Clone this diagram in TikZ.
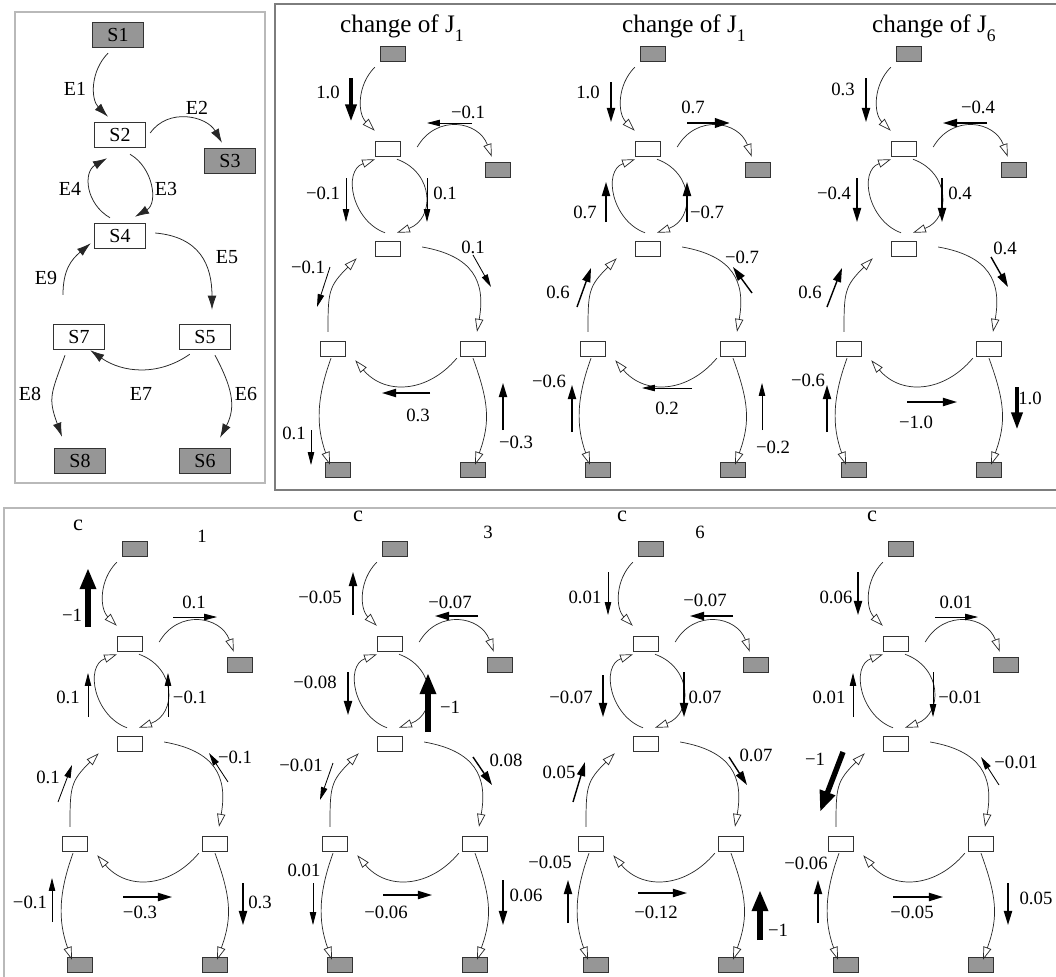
\documentclass[tikz,border=0pt]{standalone}
\usepackage{fontspec}
\setmainfont{Liberation Serif}
\usetikzlibrary{arrows.meta}
\definecolor{poolcolor}{RGB}{150,150,150}
\definecolor{framelight}{RGB}{185,185,185}
\definecolor{framedark}{RGB}{125,125,125}

\tikzset{
  pool/.style={draw=black!80, fill=poolcolor, minimum width=0.75cm, minimum height=0.45cm, inner sep=0pt},
  met/.style={pool, fill=white},
  bigpool/.style={draw=black!80, fill=poolcolor, minimum width=1.53cm, minimum height=0.75cm, inner sep=0pt, font=\fontsize{17}{17}\selectfont},
  bigmet/.style={bigpool, fill=white},
  rxn/.style={draw=black!85, line width=0.6pt, -{Triangle[open,length=11pt,width=7pt]}},
  bigrxn/.style={draw=black!85, line width=0.65pt, -{Latex[length=12pt,width=7.5pt]}},
  ename/.style={font=\fontsize{17}{17}\selectfont, inner sep=0pt},
  num/.style={font=\fontsize{16}{16}\selectfont, inner sep=0pt},
  title/.style={font=\fontsize{21.5}{22}\selectfont, inner sep=0pt, anchor=base west},
  fthin/.style={line width=0.7pt, -{Triangle[length=11pt,width=5.5pt]}},
  fmed/.style={line width=1.2pt, -{Triangle[length=12pt,width=7pt]}},
  fbold/.style={line width=2.4pt, -{Triangle[length=13pt,width=8pt]}},
  fheavy/.style={line width=3.8pt, -{Triangle[length=15pt,width=9pt]}},
  fmax/.style={line width=4.6pt, -{Triangle[length=18pt,width=13pt]}}
}

\newcommand{\jsub}[1]{\lower8pt\hbox{\fontsize{15}{15}\selectfont #1}}

\newcommand{\pathway}[3]{%
  \begin{scope}[shift={(#2,-#3)}]
    \node[pool] (#1-s1) at (5,95) {};
    \node[met]  (#1-s2) at (0,0) {};
    \node[pool] (#1-s3) at (110,-21) {};
    \node[met]  (#1-s4) at (0,-100) {};
    \node[met]  (#1-s7) at (-55,-200) {};
    \node[met]  (#1-s5) at (85,-200) {};
    \node[pool] (#1-s8) at (-50,-321) {};
    \node[pool] (#1-s6) at (85,-321) {};
    \draw[rxn] ([shift={(-5.5,-5.5)}]#1-s1.south west) to[out=-135,in=135] ([shift={(-0.5,10.5)}]#1-s2.north west);
    \draw[rxn] ([shift={(16.5,2)}]#1-s2.east) to[out=60,in=110,looseness=1.3] ([shift={(6.5,5.5)}]#1-s3.north west);
    \draw[rxn] ([shift={(9,-2.5)}]#1-s2.south) to[out=-20,in=20,looseness=1.4] ([shift={(9,8.5)}]#1-s4.north);
    \draw[rxn] ([shift={(-3,8.5)}]#1-s4.north) to[out=160,in=-160,looseness=1.2] ([shift={(-13,-2.5)}]#1-s2.south);
    \draw[rxn] ([shift={(21.5,2)}]#1-s4.east) to[out=-10,in=80,looseness=1.3] ([shift={(4,9.5)}]#1-s5.north);
    \draw[rxn] ([shift={(-5,9.5)}]#1-s7.north) to[out=90,in=-135,looseness=1.3] ([shift={(-18.5,-1.5)}]#1-s4.south west);
    \draw[rxn] ([shift={(-3.5,-1.5)}]#1-s5.south west) to[out=-130,in=-50,looseness=1.15] ([shift={(9.5,-3.5)}]#1-s7.south east);
    \draw[rxn] ([shift={(-2,-1.5)}]#1-s7.south) to[out=-110,in=110] ([shift={(-8,-2.5)}]#1-s8.north);
    \draw[rxn] ([shift={(0,-1.5)}]#1-s5.south) to[out=-70,in=70,looseness=1.1] ([shift={(2,-2.5)}]#1-s6.north);
  \end{scope}}

\begin{document}
\begin{tikzpicture}[x=0.03cm, y=0.03cm]
\clip (0,0) rectangle (1056,-977);
\fill[white] (0,0) rectangle (1056,-977);

\draw[framelight, line width=1.2pt] (15,-12) rectangle (265,-483);
\draw[framedark, line width=1.2pt] (275,-4) rectangle (1070,-490);
\draw[framelight, line width=1.2pt] (4,-508) rectangle (1070,-990);

\node[bigpool] (s1) at (118,-35) {S1};
\node[bigmet]  (s2) at (120,-135) {S2};
\node[bigpool] (s3) at (230,-161) {S3};
\node[bigmet]  (s4) at (120,-236) {S4};
\node[bigmet]  (s7) at (79,-337) {S7};
\node[bigmet]  (s5) at (205,-337) {S5};
\node[bigpool] (s8) at (80,-461) {S8};
\node[bigpool] (s6) at (205,-461) {S6};

\draw[bigrxn] ([shift={(-10,-5.5)}]s1.south) to[out=-135,in=135] ([shift={(-12,5.5)}]s2.north);
\draw[bigrxn] ([shift={(4.5,2)}]s2.east) to[out=55,in=120,looseness=1.1] ([shift={(-8,5.5)}]s3.north);
\draw[bigrxn] ([shift={(10,-6.5)}]s2.south) to[out=-30,in=30,looseness=1.1] ([shift={(15,6.5)}]s4.north);
\draw[bigrxn] ([shift={(-10,5.5)}]s4.north) to[out=150,in=-150,looseness=1.2] ([shift={(-13,-10.5)}]s2.south);
\draw[bigrxn] ([shift={(9.5,3)}]s4.east) to[out=-5,in=90,looseness=1.2] ([shift={(7,14.5)}]s5.north);
\draw[bigrxn] ([shift={(-16,29.5)}]s7.north) to[out=90,in=-140,looseness=1.1] ([shift={(-3.5,5.5)}]s4.south west);
\draw[bigrxn] ([shift={(10.5,-4.5)}]s5.south west) to[out=-145,in=-35] ([shift={(-14.5,-0.5)}]s7.south east);
\draw[bigrxn] ([shift={(-14,-5.5)}]s7.south) to[out=-110,in=110,looseness=1.3] ([shift={(-18,11.5)}]s8.north);
\draw[bigrxn] ([shift={(10,-5.5)}]s5.south) to[out=-62,in=62,looseness=1.1] ([shift={(15,10.5)}]s6.north);

\foreach \e/\x/\y in {E1/75/89, E2/197/108, E3/166/189, E4/70/189, E5/227/257, E9/46/278, E7/141/394, E8/30/394, E6/246/394}
  \node[ename] (l\e) at (\x,-\y) {\e};

\pathway{ta}{388}{149}
\pathway{tb}{648}{149}
\pathway{tc}{904}{149}
\pathway{ba}{130}{644}
\pathway{bb}{390}{644}
\pathway{bc}{646}{644}
\pathway{bd}{896}{644}

\node[title] (ta-head) at (340,-32) {change of J\jsub{1}};
\node[title] (tb-head) at (622,-32) {change of J\jsub{1}};
\node[title] (tc-head) at (872,-32) {change of J\jsub{6}};

\node[font=\fontsize{19}{19}\selectfont, inner sep=0pt] (ba-head) at (78,-525) {c};
\node[font=\fontsize{19}{19}\selectfont, inner sep=0pt] (bb-head) at (358,-516) {c};
\node[font=\fontsize{19}{19}\selectfont, inner sep=0pt] (bc-head) at (622,-516) {c};
\node[font=\fontsize{19}{19}\selectfont, inner sep=0pt] (bd-head) at (872,-516) {c};
\node[num] (ba-idx) at (202,-536) {1};
\node[num] (bb-idx) at (488,-532) {3};
\node[num] (bc-idx) at (700,-532) {6};

\foreach \w/\xa/\ya/\xb/\yb/\lx/\ly/\t [count=\k] in {
  fheavy/351/78/351/122/328/92/1.0, fthin/472/123/427/123/468/112/−0.1,
  fthin/346/178/346/222/323/193/−0.1, fthin/427/178/427/222/445/193/0.1,
  fthin/473/255/491/287/473/247/0.1, fthin/330/267/317/307/308/267/−0.1,
  fmed/430/393/382/393/418/415/0.3, fthin/311/430/311/465/294/433/0.1,
  fmed/503/430/503/383/516/442/−0.3}
  \draw[\w] (\xa,-\ya) -- (\xb,-\yb) node[num] (ta-f\k) at (\lx,-\ly) {\t};

\foreach \w/\xa/\ya/\xb/\yb/\lx/\ly/\t [count=\k] in {
  fmed/611/82/611/122/588/92/1.0, fbold/687/123/730/123/693/107/0.7,
  fmed/606/222/606/182/585/212/0.7, fmed/687/222/687/182/707/212/−0.7,
  fmed/752/293/733/267/742/257/−0.7, fmed/577/307/591/268/558/292/0.6,
  fthin/692/388/642/388/667/408/0.2, fmed/572/432/572/385/549/381/−0.6,
  fthin/762/430/762/383/773/447/−0.2}
  \draw[\w] (\xa,-\ya) -- (\xb,-\yb) node[num] (tb-f\k) at (\lx,-\ly) {\t};

\foreach \w/\xa/\ya/\xb/\yb/\lx/\ly/\t [count=\k] in {
  fmed/866/78/866/122/843/89/0.3, fmed/987/123/943/123/978/107/−0.4,
  fmed/857/178/857/222/834/193/−0.4, fmed/942/178/942/222/960/193/0.4,
  fmed/991/257/1008/287/1005/248/0.4, fmed/827/307/842/268/810/292/0.6,
  fmed/907/402/957/402/916/422/−1.0, fmed/827/432/827/385/808/380/−0.6,
  fheavy/1017/387/1017/430/1030/398/1.0}
  \draw[\w] (\xa,-\ya) -- (\xb,-\yb) node[num] (tc-f\k) at (\lx,-\ly) {\t};

\foreach \w/\xa/\ya/\xb/\yb/\lx/\ly/\t [count=\k] in {
  fmax/88/627/88/568/72/615/−1, fthin/173/617/217/617/194/602/0.1,
  fthin/88/717/88/673/68/697/0.1, fthin/168/717/168/673/190/697/−0.1,
  fthin/228/782/209/753/235/757/−0.1, fthin/58/802/72/765/48/777/0.1,
  fmed/123/897/172/897/140/912/−0.3, fthin/52/922/52/878/30/902/−0.1,
  fmed/243/883/243/925/260/902/0.3}
  \draw[\w] (\xa,-\ya) -- (\xb,-\yb) node[num] (ba-f\k) at (\lx,-\ly) {\t};

\foreach \w/\xa/\ya/\xb/\yb/\lx/\ly/\t [count=\k] in {
  fmed/353/615/353/572/320/597/−0.05, fmed/478/616/435/616/450/602/−0.07,
  fmed/348/672/348/715/315/682/−0.08, fmax/428/732/428/673/450/707/−1,
  fmed/473/757/492/785/506/760/0.08, fthin/333/763/320/800/301/765/−0.01,
  fmed/383/895/432/895/386/912/−0.06, fthin/313/883/313/925/304/870/0.01,
  fmed/503/880/503/925/526/895/0.06}
  \draw[\w] (\xa,-\ya) -- (\xb,-\yb) node[num] (bb-f\k) at (\lx,-\ly) {\t};

\foreach \w/\xa/\ya/\xb/\yb/\lx/\ly/\t [count=\k] in {
  fthin/608/572/608/615/585/597/0.01, fmed/733/616/690/616/705/600/−0.07,
  fmed/603/675/603/717/571/697/−0.07, fmed/684/672/684/717/705/697/0.07,
  fmed/729/757/747/785/756/755/0.07, fmed/573/802/585/762/559/772/0.05,
  fmed/638/893/687/893/656/912/−0.12, fmed/568/923/568/880/550/862/−0.05,
  fmax/760/940/760/890/778/930/−1}
  \draw[\w] (\xa,-\ya) -- (\xb,-\yb) node[num] (bc-f\k) at (\lx,-\ly) {\t};

\foreach \w/\xa/\ya/\xb/\yb/\lx/\ly/\t [count=\k] in {
  fmed/858/572/858/615/836/597/0.06, fthin/935/617/978/617/956/602/0.01,
  fthin/853/717/853/673/829/697/0.01, fthin/933/672/933/717/960/697/−0.01,
  fthin/999/785/981/757/1016/762/−0.01, fmax/843/752/820/812/815/759/−1,
  fmed/893/897/943/897/912/912/−0.05, fmed/818/923/818/880/806/863/−0.06,
  fmed/1008/883/1008/925/1036/898/0.05}
  \draw[\w] (\xa,-\ya) -- (\xb,-\yb) node[num] (bd-f\k) at (\lx,-\ly) {\t};
\end{tikzpicture}
\end{document}
